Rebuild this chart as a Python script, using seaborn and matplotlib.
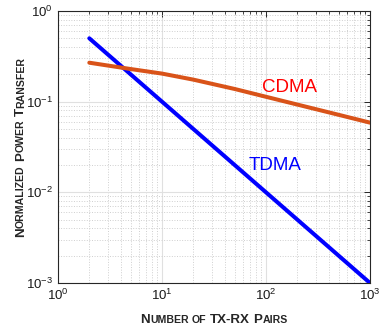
import numpy as np
import pandas as pd
import matplotlib
matplotlib.use("Agg")
import matplotlib.pyplot as plt
import matplotlib.transforms as mtransforms
import seaborn as sns

# Number of TX-RX pairs and normalized power transfer for each scheme
pairs = [2, 5, 10, 20, 50, 100, 200, 500, 1000]
tdma_power = [0.5, 0.2, 0.1, 0.05, 0.02, 0.01, 0.005, 0.002, 0.001]
cdma_power = [0.269, 0.229, 0.204, 0.175, 0.138, 0.1132, 0.0929, 0.0716, 0.0587]

series_names = ["TDMA", "CDMA"]
series_colors = {"TDMA": "#0000FF", "CDMA": "#D95319"}
label_colors = {"TDMA": "#0000FF", "CDMA": "#FF0000"}
label_pos = {"TDMA": (121, 0.0198), "CDMA": (168, 0.145)}

x_ticks = [1, 10, 100, 1000]
y_ticks = [1e-3, 1e-2, 1e-1, 1]

df = pd.DataFrame({
    "pairs": pairs * 2,
    "power": tdma_power + cdma_power,
    "scheme": ["TDMA"] * len(pairs) + ["CDMA"] * len(pairs),
})

sns.set_theme(style="white")
plt.rcParams["font.family"] = ["Liberation Sans", "DejaVu Sans"]
plt.rcParams["mathtext.default"] = "regular"

W, H, DPI = 382, 331, 100
fig = plt.figure(figsize=(W / DPI, H / DPI), dpi=DPI)
ax = fig.add_axes([58 / W, (H - 283) / H, (370 - 58) / W, (283 - 11) / H])

sns.lineplot(data=df, x="pairs", y="power", hue="scheme", hue_order=series_names,
             palette=series_colors, linewidth=2.9, legend=False, ax=ax,
             zorder=3)

ax.set_xscale("log")
ax.set_yscale("log")
ax.set_xlim(1, 1000)
ax.set_ylim(1e-3, 1)
ax.set_xticks(x_ticks)
ax.set_yticks(y_ticks)
ax.set_xlabel("")
ax.set_ylabel("")

ax.grid(True, which="major", color="#e0e0e0", linestyle="-", linewidth=0.8)
ax.grid(True, which="minor", color="#cfcfcf", linestyle=":", linewidth=0.7)
ax.set_axisbelow(True)

for side in ["left", "right", "top", "bottom"]:
    ax.spines[side].set_visible(True)
    ax.spines[side].set_color("#262626")
    ax.spines[side].set_linewidth(0.8)
ax.tick_params(which="both", direction="in", top=True, right=True,
               colors="#262626", labelcolor="#1a1a1a", labelsize=9.5)
ax.tick_params(which="major", length=4, width=0.7)
ax.tick_params(which="minor", length=2, width=0.6)

for name in series_names:
    x, y = label_pos[name]
    ax.text(x, y, name, color=label_colors[name], fontsize=13.5,
            ha="center", va="center", zorder=4)

# Small-caps axis titles assembled from pieces of two sizes
BIG, SMALL = 9.6, 7.6
WEIGHT = "bold"
xlabel_parts = [("N", BIG), ("UMBER", SMALL), (" ", SMALL), ("OF", SMALL),
                (" ", BIG), ("TX-RX", BIG), (" ", BIG), ("P", BIG), ("AIRS", SMALL)]
ylabel_parts = [("N", BIG), ("ORMALIZED", SMALL), (" ", BIG), ("P", BIG),
                ("OWER", SMALL), (" ", BIG), ("T", BIG), ("RANSFER", SMALL)]

fig.canvas.draw()
renderer = fig.canvas.get_renderer()
ident = mtransforms.IdentityTransform()


def advance(txt, size):
    if txt.strip() == "":
        return 0.278 * size * DPI / 72.0
    t = fig.text(0, 0, txt, fontsize=size, fontweight=WEIGHT, transform=ident)
    w = t.get_window_extent(renderer).width
    t.remove()
    return w


def small_caps(parts, center, base, vertical):
    widths = [advance(t, s) for t, s in parts]
    pos = center - sum(widths) / 2.0
    for (txt, size), w in zip(parts, widths):
        if txt.strip():
            if vertical:
                fig.text(base, pos, txt, fontsize=size, rotation=90,
                         fontweight=WEIGHT, rotation_mode="anchor",
                         ha="left", va="baseline", color="#262626",
                         transform=ident)
            else:
                fig.text(pos, base, txt, fontsize=size, fontweight=WEIGHT,
                         ha="left", va="baseline", color="#262626",
                         transform=ident)
        pos += w


small_caps(xlabel_parts, (58 + 370) / 2.0, H - 323, vertical=False)
small_caps(ylabel_parts, H - (11 + 283) / 2.0, 24, vertical=True)

fig.savefig("out.png", dpi=DPI, facecolor="white")
